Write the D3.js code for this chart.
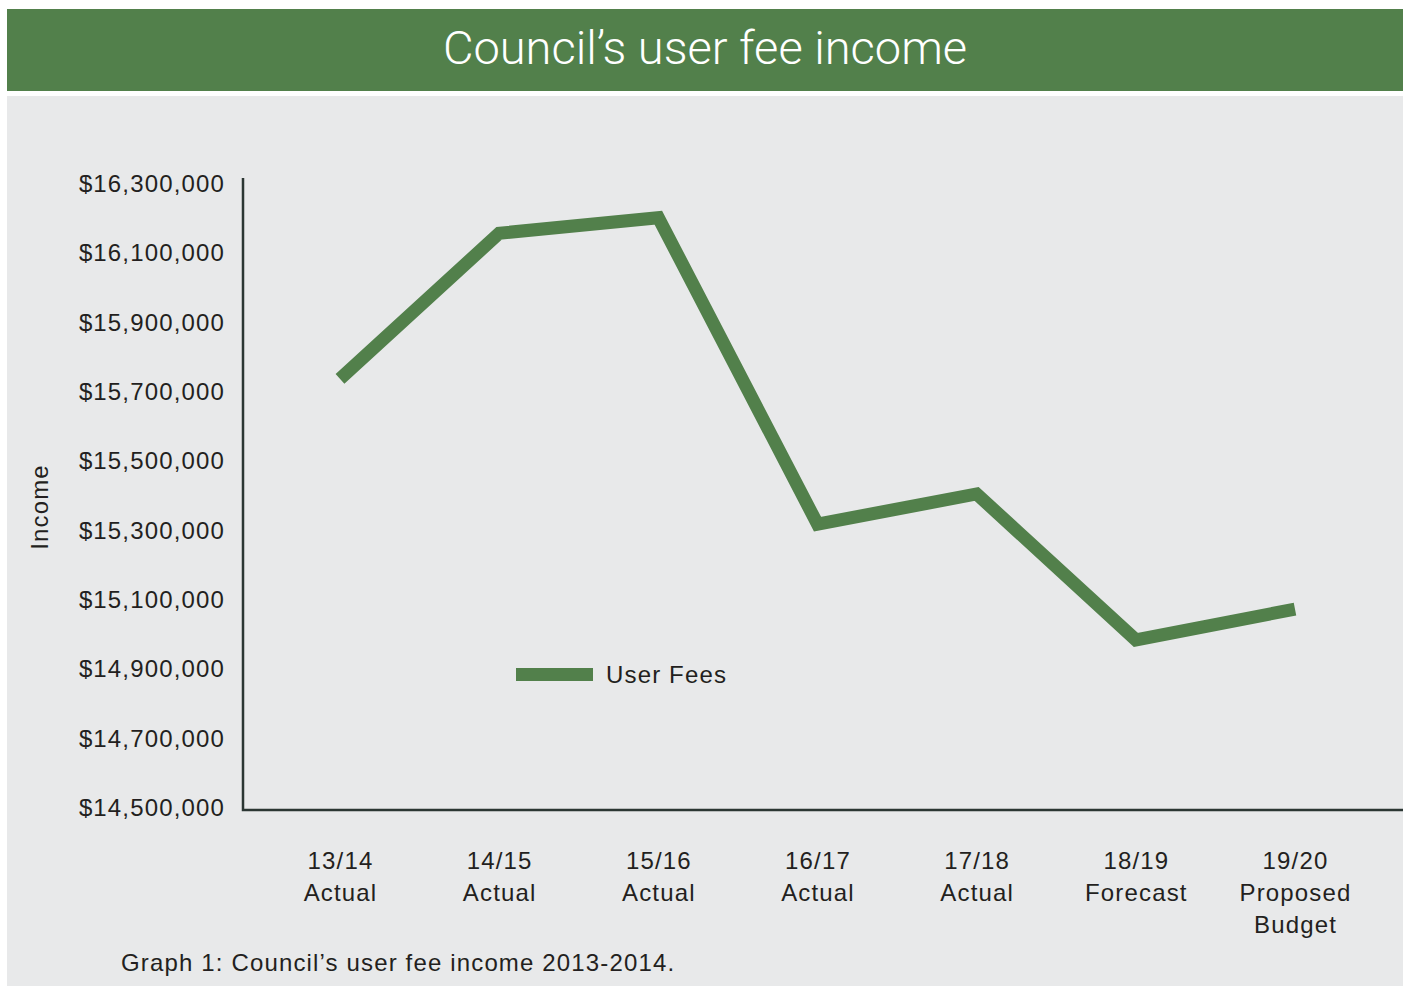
<!DOCTYPE html>
<html>
<head>
<meta charset="utf-8">
<script src="https://cdn.jsdelivr.net/npm/d3@7"></script>
<style>
  html, body { margin: 0; padding: 0; background: #ffffff; }
  svg { display: block; }
</style>
</head>
<body>
<svg id="chart" width="1407" height="986"></svg>
<script>
// Financial years and their status labels
const years = ["13/14", "14/15", "15/16", "16/17", "17/18", "18/19", "19/20"];
const statuses = [["Actual"], ["Actual"], ["Actual"], ["Actual"], ["Actual"], ["Forecast"], ["Proposed", "Budget"]];

// User fee income per year ($)
const userFees = [15735000, 16155000, 16200000, 15316000, 15403000, 14982000, 15071000];

// Y axis tick values
const yTicks = [14500000, 14700000, 14900000, 15100000, 15300000, 15500000, 15700000, 15900000, 16100000, 16300000];

const seriesName = "User Fees";
const titleText = "Council\u2019s user fee income";
const yTitle = "Income";
const caption = "Graph 1: Council\u2019s user fee income 2013-2014.";

const green = "#52804b";
const panel = "#e8e9ea";
const ink = "#231f20";
const axisInk = "#2b3633";
const font = "'Liberation Sans', Arial, Helvetica, sans-serif";
const spacing = "1.15px";

const svg = d3.select("#chart");

// Title band
svg.append("rect").attr("x", 7).attr("y", 9).attr("width", 1396).attr("height", 82).attr("fill", green);
svg.append("text")
  .attr("x", 705).attr("y", 64)
  .attr("text-anchor", "middle")
  .attr("fill", "#ffffff")
  .style("font-family", "Roboto, 'Open Sans', sans-serif")
  .style("font-weight", 300)
  .style("font-size", "47px")
  .text(titleText);

// Grey chart panel
svg.append("rect").attr("x", 7).attr("y", 96).attr("width", 1396).attr("height", 890).attr("fill", panel);

// Scales
const x = d3.scalePoint().domain(years).range([340, 1295]);
const y = d3.scaleLinear().domain([14500000, 16300000]).range([807, 183]);

const money = d => "$" + d3.format(",")(d);

// Y axis tick labels
const yAxis = d3.axisLeft(y).tickValues(yTicks).tickFormat(money).tickSize(0).tickPadding(0);
const gy = svg.append("g").attr("transform", "translate(225,0)").call(yAxis);
gy.select(".domain").remove();
gy.selectAll("text")
  .attr("fill", ink)
  .attr("dy", "0.35em")
  .style("font-family", font)
  .style("font-size", "24px")
  .style("letter-spacing", spacing);

// X axis tick labels (multi-line)
const xAxis = d3.axisBottom(x).tickSize(0).tickFormat("");
const gx = svg.append("g").attr("transform", "translate(0,849)").call(xAxis);
gx.select(".domain").remove();
gx.selectAll(".tick").each(function(d, i) {
  const t = d3.select(this).append("text")
    .attr("text-anchor", "middle")
    .attr("fill", ink)
    .style("font-family", font)
    .style("font-size", "24px")
    .style("letter-spacing", spacing);
  [years[i]].concat(statuses[i]).forEach((line, j) => {
    t.append("tspan").attr("x", 0).attr("y", 20 + j * 32).text(line);
  });
});

// Axis lines (left and bottom)
svg.append("path")
  .attr("d", d3.line()([[243, 178], [243, 810], [1403, 810]]))
  .attr("fill", "none")
  .attr("stroke", axisInk)
  .attr("stroke-width", 2.5);

// Y axis title
svg.append("text")
  .attr("transform", "translate(48,507) rotate(-90)")
  .attr("text-anchor", "middle")
  .attr("fill", ink)
  .style("font-family", font)
  .style("font-size", "24px")
  .style("letter-spacing", spacing)
  .text(yTitle);

// Series line
const line = d3.line()
  .x((d, i) => x(years[i]))
  .y(d => y(d));

svg.append("path")
  .datum(userFees)
  .attr("d", line)
  .attr("fill", "none")
  .attr("stroke", green)
  .attr("stroke-width", 13)
  .attr("stroke-linejoin", "miter")
  .attr("stroke-linecap", "butt");

// Legend
const legend = svg.append("g").attr("transform", "translate(516,674.5)");
legend.append("line")
  .attr("x1", 0).attr("x2", 77).attr("y1", 0).attr("y2", 0)
  .attr("stroke", green).attr("stroke-width", 13);
legend.append("text")
  .attr("x", 90).attr("y", 0).attr("dy", "0.35em")
  .attr("fill", ink)
  .style("font-family", font)
  .style("font-size", "24px")
  .style("letter-spacing", spacing)
  .text(seriesName);

// Caption
svg.append("text")
  .attr("x", 121).attr("y", 971)
  .attr("fill", ink)
  .style("font-family", font)
  .style("font-size", "24px")
  .style("letter-spacing", spacing)
  .text(caption);
</script>
</body>
</html>
